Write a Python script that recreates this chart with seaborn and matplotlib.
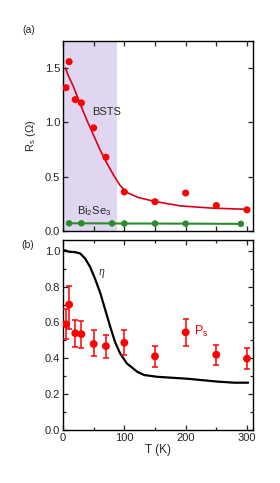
import numpy as np
import pandas as pd
import matplotlib
matplotlib.use("Agg")
import matplotlib.pyplot as plt
import seaborn as sns
from matplotlib.ticker import MultipleLocator

# ---- data ----
# (a) sheet resistance
t_bsts = [5, 10, 20, 30, 50, 70, 100, 150, 200, 250, 300]
r_bsts = [1.32, 1.56, 1.21, 1.18, 0.95, 0.68, 0.36, 0.27, 0.35, 0.235, 0.195]

t_fit = [4, 8, 17, 28, 39, 50, 61, 72, 83, 93, 104, 123, 151, 192, 246, 301]
r_fit = [1.50, 1.44, 1.33, 1.17, 1.02, 0.88, 0.74, 0.62, 0.51, 0.42, 0.355,
         0.308, 0.271, 0.231, 0.21, 0.20]

t_bise = [10, 30, 80, 100, 150, 200, 290]
r_bise = [0.071, 0.071, 0.070, 0.069, 0.069, 0.068, 0.066]

# (b) spin polarisation and eta
t_ps = [5, 10, 20, 30, 50, 70, 100, 150, 200, 250, 300]
ps = [0.59, 0.70, 0.54, 0.535, 0.48, 0.468, 0.487, 0.411, 0.545, 0.42, 0.398]
ps_lo = [0.507, 0.561, 0.461, 0.457, 0.411, 0.40, 0.417, 0.353, 0.466, 0.36, 0.342]
ps_hi = [0.673, 0.803, 0.615, 0.61, 0.558, 0.532, 0.556, 0.466, 0.62, 0.477, 0.455]

t_eta = [3, 9, 20, 28, 36, 44, 52, 61, 69, 77, 85, 93, 104, 121, 132, 153,
         203, 252, 279, 302]
eta = [1.003, 0.995, 0.992, 0.985, 0.957, 0.911, 0.846, 0.762, 0.669, 0.576,
       0.49, 0.428, 0.372, 0.325, 0.307, 0.297, 0.286, 0.27, 0.264, 0.264]

shade_end = 88

sns.set_style("ticks")
plt.rcParams['font.family'] = ['Liberation Sans', 'DejaVu Sans']
plt.rcParams['mathtext.fontset'] = 'custom'
plt.rcParams['mathtext.rm'] = 'Liberation Sans'
plt.rcParams['mathtext.it'] = 'Liberation Serif:italic'
plt.rcParams['mathtext.default'] = 'rm'

red = '#ff0000'
red_line = '#d8001c'
green = '#2a8c2a'

fig = plt.figure(figsize=(2.8, 4.83), dpi=100)
ax1 = fig.add_axes([0.225, 0.5217, 0.679, 0.3934])
ax2 = fig.add_axes([0.225, 0.1097, 0.679, 0.3934])

df_fit = pd.DataFrame({'T': t_fit, 'R': r_fit})
df_bsts = pd.DataFrame({'T': t_bsts, 'R': r_bsts})
df_bise = pd.DataFrame({'T': t_bise, 'R': r_bise})

ax1.axvspan(0, shade_end, color='#e1d6ef', lw=0, zorder=0)
sns.lineplot(data=df_fit, x='T', y='R', ax=ax1, color=red_line, lw=1.2,
             sort=False, zorder=2)
sns.scatterplot(data=df_bsts, x='T', y='R', ax=ax1, color=red, s=26,
                edgecolor='none', zorder=3)
sns.lineplot(data=df_bise, x='T', y='R', ax=ax1, color=green, lw=1.5, zorder=2)
sns.scatterplot(data=df_bise, x='T', y='R', ax=ax1, color=green, s=22,
                edgecolor='none', zorder=3)
ax1.text(71, 1.096, 'BSTS', ha='center', va='center', fontsize=8)
ax1.text(50, 0.185, 'Bi$_2$Se$_3$', ha='center', va='center', fontsize=8)
ax1.set_xlim(0, 310)
ax1.set_ylim(0, 1.75)
ax1.yaxis.set_major_locator(MultipleLocator(0.5))
ax1.yaxis.set_major_formatter('{x:.1f}')
ax1.xaxis.set_major_locator(MultipleLocator(50))
ax1.set_xticklabels([])
ax1.set_xlabel('')
ax1.set_ylabel('R$_s$ ($\\Omega$)', fontsize=8, labelpad=5)

df_eta = pd.DataFrame({'T': t_eta, 'eta': eta})
df_ps = pd.DataFrame({'T': t_ps, 'P': ps})
err = np.array([np.subtract(ps, ps_lo), np.subtract(ps_hi, ps)])
ax2.errorbar(t_ps, ps, yerr=err, fmt='none', ecolor=red, elinewidth=1.1,
             capsize=2.5, capthick=1.1, zorder=3)
sns.lineplot(data=df_eta, x='T', y='eta', ax=ax2, color='black', lw=1.6,
             zorder=2)
sns.scatterplot(data=df_ps, x='T', y='P', ax=ax2, color=red, s=32,
                edgecolor='none', zorder=4)
ax2.text(57, 0.875, '$\\mathit{\\eta}$', ha='left', va='center', fontsize=8.5,
         color='#333333')
ax2.text(214, 0.548, 'P$_s$', ha='left', va='center', fontsize=9,
         color=red)
ax2.set_xlim(0, 310)
ax2.set_ylim(0, 1.06)
ax2.xaxis.set_major_locator(MultipleLocator(100))
ax2.xaxis.set_minor_locator(MultipleLocator(50))
ax2.yaxis.set_major_locator(MultipleLocator(0.2))
ax2.yaxis.set_minor_locator(MultipleLocator(0.1))
ax2.yaxis.set_major_formatter('{x:.1f}')
ax2.set_xlabel('T (K)', fontsize=8.5, labelpad=1)
ax2.set_ylabel('')

for ax in (ax1, ax2):
    for sp in ax.spines.values():
        sp.set_visible(True)
        sp.set_linewidth(1.0)
        sp.set_color('black')
    ax.tick_params(which='both', direction='in', top=True, right=True,
                   width=0.9, labelsize=8, pad=2)
    ax.tick_params(which='major', length=3.5)
    ax.tick_params(which='minor', length=2)

fig.text(29 / 280, 1 - 30 / 483, '(a)', ha='center', va='center', fontsize=7.5)
fig.text(28 / 280, 1 - 245 / 483, '(b)', ha='center', va='center', fontsize=7.5)

fig.savefig('out.png', dpi=100)
